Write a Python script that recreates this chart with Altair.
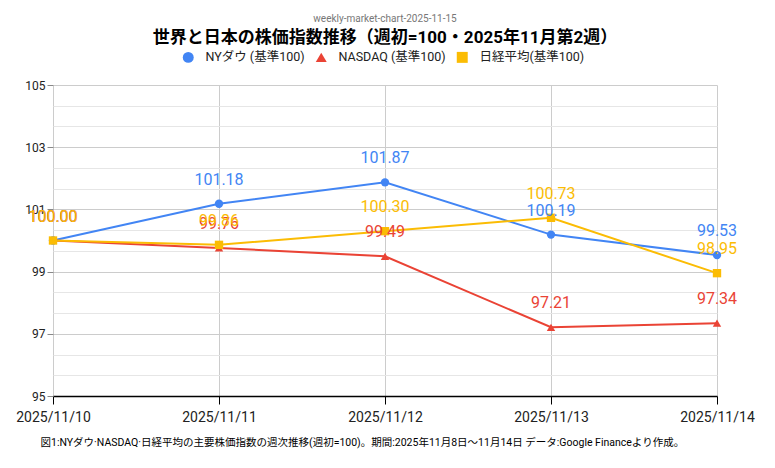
import altair as alt
import pandas as pd

dates = ["2025/11/10", "2025/11/11", "2025/11/12", "2025/11/13", "2025/11/14"]
series = ["NYダウ (基準100)", "NASDAQ (基準100)", "日経平均(基準100)"]
ny = [100.00, 101.18, 101.87, 100.19, 99.53]
nasdaq = [100.00, 99.76, 99.49, 97.21, 97.34]
nikkei = [100.00, 99.86, 100.30, 100.73, 98.95]
colors = ["#4285F4", "#EA4335", "#FBBC04"]
shapes = ["circle", "triangle-up", "square"]
y_ticks = [95 + k * 2 / 3 for k in range(16)]

rows = []
for name, vals in zip(series, [ny, nasdaq, nikkei]):
    for d, v in zip(dates, vals):
        rows.append({"date": d, "series": name, "value": v, "label": f"{v:.2f}"})
df = pd.DataFrame(rows)

FONT = "Roboto, Noto Sans CJK JP"
major = "round(datum.value*3) % 6 == 3"

x = alt.X("date:O", scale=alt.Scale(type="point", padding=0), sort=dates,
          axis=alt.Axis(title="図1:NYダウ·NASDAQ·日経平均の主要株価指数の週次推移(週初=100)。期間:2025年11月8日〜11月14日  データ:Google Financeより作成。",
                        titleFontSize=10.5, titleFontWeight="normal", titleFont=FONT,
                        titleColor="#000", titlePadding=13,
                        titleAnchor="start", titleAlign="left", titleX=-13,
                        labelAngle=0, labelFontSize=14, labelColor="#222", labelPadding=6,
                        domainColor="#000", domainWidth=1.5, tickColor="#000", tickSize=8,
                        grid=True, gridColor="#cccccc", labelFont="Roboto"))
y = alt.Y("value:Q", scale=alt.Scale(domain=[95, 105], nice=False, zero=False),
          axis=alt.Axis(title=None, values=y_ticks, labelFontSize=12, labelColor="#222",
                        labelFont="Roboto",
                        labelExpr=f"{major} ? format(datum.value, 'd') : ''",
                        gridColor={"condition": {"test": major, "value": "#cccccc"}, "value": "#e6e6e6"},
                        tickColor={"condition": {"test": major, "value": "#888"}, "value": "transparent"},
                        tickSize=6, domain=False))
color_scale = alt.Scale(domain=series, range=colors)
shape_scale = alt.Scale(domain=series, range=shapes)

leg = alt.Legend(title=None, orient="none", direction="horizontal",
                 legendX=129, legendY=-34, labelFontSize=12.5, labelOffset=11,
                 labelFont=FONT, symbolSize=120, columnPadding=10,
                 symbolOpacity=1, symbolStrokeWidth=0, labelColor="#222")

base = alt.Chart(df)

lines = base.mark_line(strokeWidth=2).encode(
    x=x, y=y, color=alt.Color("series:N", scale=color_scale, legend=leg),
    detail="series:N")

points = base.mark_point(filled=True, size=70, opacity=1).encode(
    x=x, y=y,
    color=alt.Color("series:N", scale=color_scale, legend=leg),
    shape=alt.Shape("series:N", scale=shape_scale, legend=leg))

labels = base.mark_text(fontSize=16, dy=-24, baseline="middle", font="Roboto").encode(
    x=x, y=y, text="label:N",
    color=alt.Color("series:N", scale=color_scale, legend=leg))

chart = alt.layer(lines, points, labels).properties(
    width=664, height=311,
    autosize=alt.AutoSizeParams(type="none"),
    padding={"left": 45, "top": 77, "right": 50, "bottom": 60},
    title=alt.TitleParams(
        text="weekly-market-chart-2025-11-15",
        subtitle="世界と日本の株価指数推移（週初=100・2025年11月第2週）",
        fontSize=10, font="Roboto", fontWeight="normal", color="#777",
        subtitleFontSize=17, subtitleFont=FONT, subtitleFontWeight="bold",
        subtitleColor="#000", subtitlePadding=6, anchor="middle", offset=5)
).configure_view(stroke=None)

chart.save("out.html", embed_options={"renderer": "svg", "actions": False})
